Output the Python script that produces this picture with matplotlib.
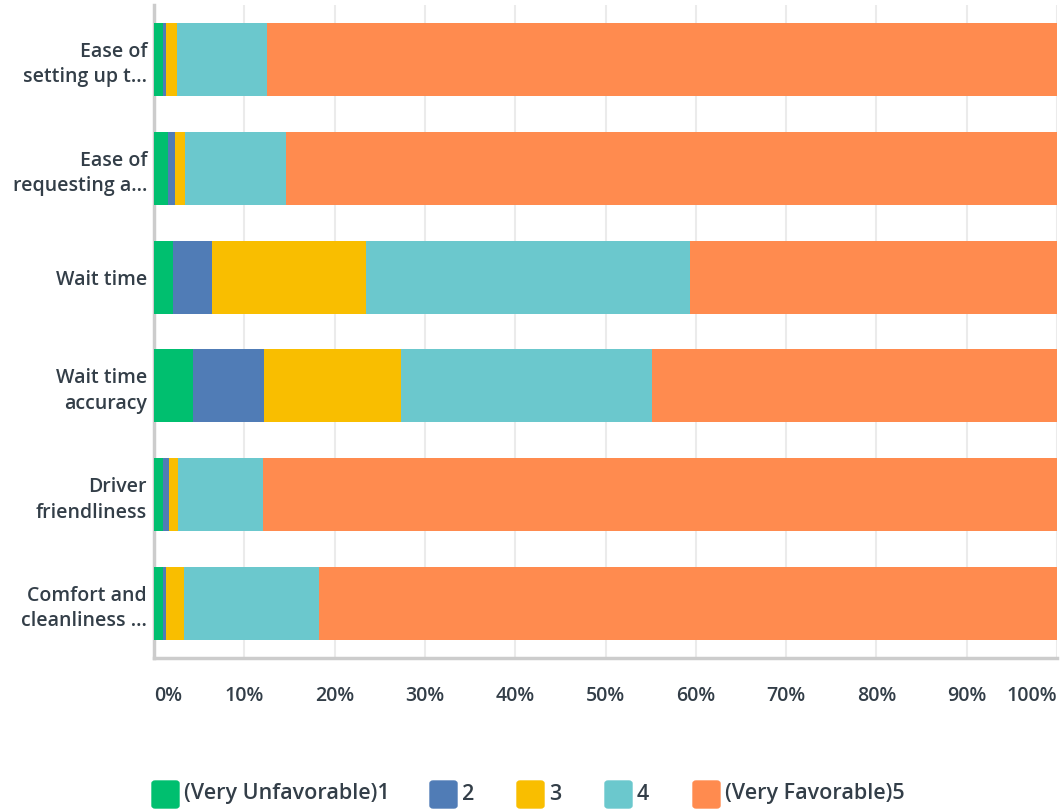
import matplotlib.pyplot as plt
from matplotlib.patches import FancyBboxPatch
import numpy as np

plt.rcParams["font.family"] = ["Open Sans", "DejaVu Sans"]

questions = ["Ease of\nsetting up t...", "Ease of\nrequesting a...", "Wait time",
             "Wait time\naccuracy", "Driver\nfriendliness", "Comfort and\ncleanliness ..."]
series = ["(Very Unfavorable)1", "2", "3", "4", "(Very Favorable)5"]
colors = ["#00bf6f", "#507cb6", "#f9be00", "#6bc8cd", "#ff8b4f"]

very_unfav = [1.0, 1.5, 2.1, 4.3, 1.0, 1.0]
two = [0.3, 0.8, 4.3, 7.9, 0.7, 0.3]
three = [1.2, 1.1, 17.1, 15.1, 1.0, 2.0]
four = [10.0, 11.2, 35.9, 27.9, 9.4, 15.0]
very_fav = [87.5, 85.4, 40.6, 44.8, 87.9, 81.7]

values = [very_unfav, two, three, four, very_fav]

fig = plt.figure(figsize=(10.6, 8.1), dpi=100)
ax = fig.add_axes([154 / 1060, 1 - 658 / 810, 903 / 1060, 653 / 810])

y = np.arange(len(questions))
left = np.zeros(len(questions))
for vals, name, c in zip(values, series, colors):
    ax.barh(y, vals, left=left, height=0.67, color=c, label=name, zorder=3)
    left += np.array(vals)

ax.set_ylim(len(questions) - 0.5, -0.5)
ax.set_xlim(0, 100)
ax.set_yticks(y)
ax.set_yticklabels(questions, fontsize=14, fontweight="semibold", color="#333e48",
                   linespacing=1.35)
ticks = np.arange(0, 101, 10)
ax.set_xticks(ticks)
xlabels = ax.set_xticklabels([f"{t}%" for t in ticks], fontsize=14, fontweight="semibold",
                             color="#333e48")
xlabels[0].set_ha("left")
xlabels[-1].set_ha("right")
ax.tick_params(axis="both", length=0)
ax.tick_params(axis="x", pad=20)
ax.tick_params(axis="y", pad=5)
ax.grid(axis="x", color="#ebebeb", linewidth=1.5, zorder=0)

for s in ["top", "right"]:
    ax.spines[s].set_visible(False)
for s in ["left", "bottom"]:
    ax.spines[s].set_color("#cccccc")
    ax.spines[s].set_linewidth(2.5)

# legend
leg_x = [152, 430, 517, 605, 693]
for lx, name, c in zip(leg_x, series, colors):
    box = FancyBboxPatch((lx / 1060, 1 - 808 / 810), 27 / 1060, 27 / 810,
                         boxstyle="round,pad=0,rounding_size=0.003",
                         transform=fig.transFigure, color=c)
    fig.patches.append(box)
    fig.text((lx + 32) / 1060, 1 - 794 / 810, name, fontsize=15.5, fontweight="semibold",
             color="#333e48", va="center", ha="left")

fig.savefig("out.png", dpi=100)
